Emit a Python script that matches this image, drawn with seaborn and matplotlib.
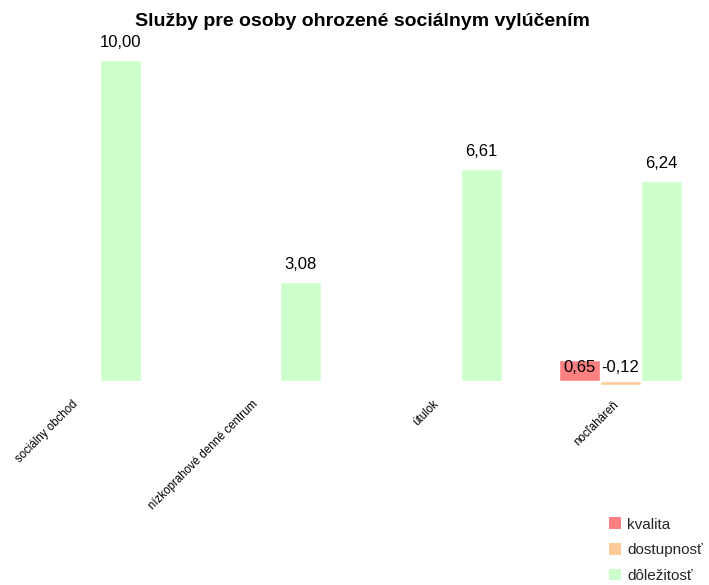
import numpy as np
import pandas as pd
import matplotlib
matplotlib.use("Agg")
import matplotlib.pyplot as plt
import seaborn as sns
from matplotlib.patches import Patch
from matplotlib.transforms import ScaledTranslation

# Services and their indicator values
categories = ["sociálny obchod", "nízkoprahové denné centrum", "útulok", "nocľaháreň"]
kvalita = [np.nan, np.nan, np.nan, 0.65]
dostupnost = [np.nan, np.nan, np.nan, -0.12]
dolezitost = [10.00, 3.08, 6.61, 6.24]
series_names = ["kvalita", "dostupnosť", "dôležitosť"]
colors = ["#FF8080", "#FFCC99", "#CCFFCC"]

rows = []
for name, vals in zip(series_names, [kvalita, dostupnost, dolezitost]):
    for cat, v in zip(categories, vals):
        rows.append({"služba": cat, "ukazovateľ": name, "hodnota": v})
df = pd.DataFrame(rows)

sns.set_theme(style="white")
plt.rcParams["font.family"] = ["Liberation Sans", "DejaVu Sans"]

fig = plt.figure(figsize=(7.09, 5.85), dpi=100)
ax = fig.add_axes([0.0, 195 / 585, 1.0, 340 / 585])

sns.barplot(data=df, x="služba", y="hodnota", hue="ukazovateľ",
            order=categories, hue_order=series_names, palette=colors,
            width=0.68, gap=0.0, dodge=True, errorbar=None,
            saturation=1.0, legend=False, ax=ax)

ax.set_xlim(-0.44, 3.49)
ax.set_ylim(-0.28, 10.31)
for s in ax.spines.values():
    s.set_visible(False)
ax.set_yticks([])
ax.set_xlabel("")
ax.set_ylabel("")
ax.tick_params(axis="x", length=0, pad=6)
ax.set_xticks(range(len(categories)))
ax.set_xticklabels(categories, rotation=45, ha="right", rotation_mode="anchor",
                   fontsize=8.3, color="#000000")
shift = ScaledTranslation(-0.08, 0, fig.dpi_scale_trans)
for lbl in ax.get_xticklabels():
    lbl.set_transform(lbl.get_transform() + shift)

# Value labels above each bar
for container in ax.containers:
    for bar in container:
        h = bar.get_height()
        if np.isnan(h):
            continue
        x = bar.get_x() + bar.get_width() / 2
        y = h + 0.3 if h >= 1 else 0.2
        ax.text(x, y, f"{h:.2f}".replace(".", ","), ha="center", va="bottom",
                fontsize=12, color="#000000")

fig.suptitle("Služby pre osoby ohrozené sociálnym vylúčením", x=0.511, y=0.977,
             fontsize=14, fontweight="bold", color="#000000")

handles = [Patch(facecolor=c, edgecolor="none") for c in colors]
fig.legend(handles, series_names, loc="lower left", bbox_to_anchor=(600 / 709, -0.012),
           frameon=False, fontsize=11, handlelength=0.8, handleheight=0.8,
           handletextpad=0.4, labelspacing=0.75, borderaxespad=0.2)

fig.savefig("out.png", dpi=100, facecolor="white")
